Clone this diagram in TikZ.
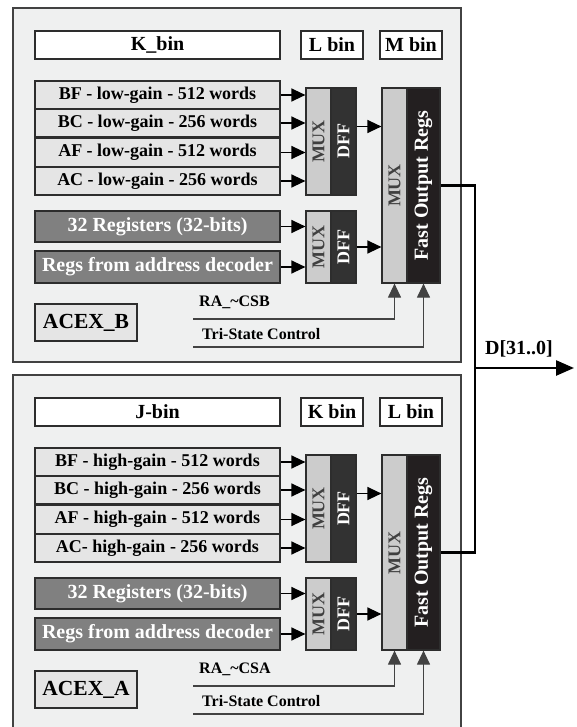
\documentclass[tikz,border=0pt]{standalone}
\usepackage{fontspec}
\setmainfont{Liberation Serif}
\usepackage{graphicx}
\usetikzlibrary{arrows.meta}
\definecolor{panelgray}{RGB}{239,240,240}
\definecolor{memgray}{RGB}{229,229,229}
\definecolor{reggray}{RGB}{128,128,128}
\definecolor{muxgray}{RGB}{204,204,204}
\definecolor{dffgray}{RGB}{50,50,50}
\definecolor{fastblack}{RGB}{35,31,32}
\definecolor{edge}{RGB}{45,45,45}
\newcommand{\fs}[1]{\fontsize{#1}{#1}\selectfont\bfseries}
\begin{document}
\begin{tikzpicture}[x=1pt, y=-1pt, line join=miter,
  panel/.style={draw=edge!90, line width=1.3pt, fill=panelgray},
  titlebox/.style={draw=edge, line width=1.5pt, fill=white, minimum height=28pt, inner sep=0pt, font=\fs{20}},
  membox/.style={draw=edge, line width=1.5pt, fill=memgray, minimum width=245pt, minimum height=28pt, inner sep=0pt, font=\fs{18}},
  regbox/.style={draw=edge, line width=1.5pt, fill=reggray, text=white, minimum width=245pt, inner sep=0pt, font=\fs{20}},
  muxbox/.style={draw=edge, line width=1.2pt, fill=muxgray, text=black!75, minimum width=25pt, inner sep=0pt, font=\fs{18}},
  dffbox/.style={draw=edge, line width=1.2pt, fill=dffgray, text=white, minimum width=25pt, inner sep=0pt, font=\fs{18}},
  fastbox/.style={draw=edge, line width=1.2pt, fill=fastblack, text=white, minimum width=33pt, minimum height=195pt, inner sep=0pt, font=\fs{20}},
  ctltext/.style={anchor=west, inner sep=0pt, font=\fs{16}},
  arr/.style={-{Triangle[length=14pt,width=13pt]}, line width=1.3pt},
  ctrl/.style={-{Triangle[length=14pt,width=13pt]}, line width=1.2pt, draw=edge!90},
  bus/.style={line width=2.5pt}]
\useasboundingbox (0,0) rectangle (577,727);
% Hai khoi ACEX: B o tren, A o duoi
\foreach \off/\nm/\ta/\tb/\tc/\gain/\aclab/\bot in {0/B/K\_bin/L bin/M bin/low/AC - low-gain - 256 words/362, 367/A/J-bin/K bin/L bin/high/AC- high-gain - 256 words/368}{
\begin{scope}[yshift=-\off pt]
\draw[panel] (13,8) rectangle (461,\bot);
% Tieu de cac bin
\node[titlebox, minimum width=245pt] (t1\nm) at (157.5,45) {\ta};
\node[titlebox, minimum width=62pt] (t2\nm) at (332,45) {\tb};
\node[titlebox, minimum width=62pt] (t3\nm) at (411,45) {\tc};
% Bo nho
\node[membox] (m1\nm) at (157.5,95) {BF - \gain-gain - 512 words};
\node[membox] (m2\nm) at (157.5,123) {BC - \gain-gain - 256 words};
\node[membox] (m3\nm) at (157.5,152.5) {AF - \gain-gain - 512 words};
\node[membox] (m4\nm) at (157.5,181) {\aclab};
\node[regbox, minimum height=31pt] (r1\nm) at (157.5,226.5) {32 Registers (32-bits)};
\node[regbox, minimum height=32pt] (r2\nm) at (157.5,267) {Regs from address decoder};
% MUX va DFF
\node[muxbox, minimum height=107pt] (mx1\nm) at (318.5,141.5) {\rotatebox{90}{MUX}};
\node[dffbox, minimum height=107pt] (df1\nm) at (343.5,141.5) {\rotatebox{90}{DFF}};
\node[muxbox, minimum height=72pt] (mx2\nm) at (318.5,247) {\rotatebox{90}{MUX}};
\node[dffbox, minimum height=72pt] (df2\nm) at (343.5,247) {\rotatebox{90}{DFF}};
% Thanh ghi ra nhanh
\node[muxbox, minimum height=195pt] (fm\nm) at (394.5,185.5) {\rotatebox{90}{MUX}};
\node[fastbox] (fr\nm) at (423.5,185.5) {\rotatebox{90}{Fast Output Regs}};
\node[membox, minimum width=102pt, minimum height=37pt, font=\fs{21.5}] (ax\nm) at (86,322.5) {ACEX\_\nm};
% Tin hieu dieu khien
\node[ctltext] (ra\nm) at (199,302) {RA\_\textasciitilde CS\nm};
\node[ctltext] (ts\nm) at (202,334) {Tri-State Control};
\coordinate (rs\nm) at (193,319);
\coordinate (tc\nm) at (193,347);
\coordinate (d1\nm) at ([yshift=15pt]df1\nm.east);
% Mui ten
\foreach \i in {1,...,4}
  \draw[arr] (m\i\nm.east) -- (m\i\nm.east -| mx1\nm.west);
\draw[arr] (r1\nm.east) -- (r1\nm.east -| mx2\nm.west);
\draw[arr] (r2\nm.east) -- (r2\nm.east -| mx2\nm.west);
\draw[arr] (d1\nm) -- (d1\nm -| fm\nm.west);
\draw[arr] (df2\nm.east) -- (df2\nm.east -| fm\nm.west);
\draw[ctrl] (rs\nm) -| (fm\nm.south);
\draw[ctrl] (tc\nm) -| (fr\nm.south);
\end{scope}
}
% Bus du lieu ra
\coordinate (bj) at (475,368);
\coordinate (dout) at (574,368);
\draw[bus] (frB.east) -| (bj) |- (frA.east);
\draw[bus, -{Triangle[length=18pt,width=15pt]}] (bj) -- (dout);
\node[font=\fs{20}, inner sep=0pt] (dlab) at (519,349) {D[31..0]};
\end{tikzpicture}
\end{document}
